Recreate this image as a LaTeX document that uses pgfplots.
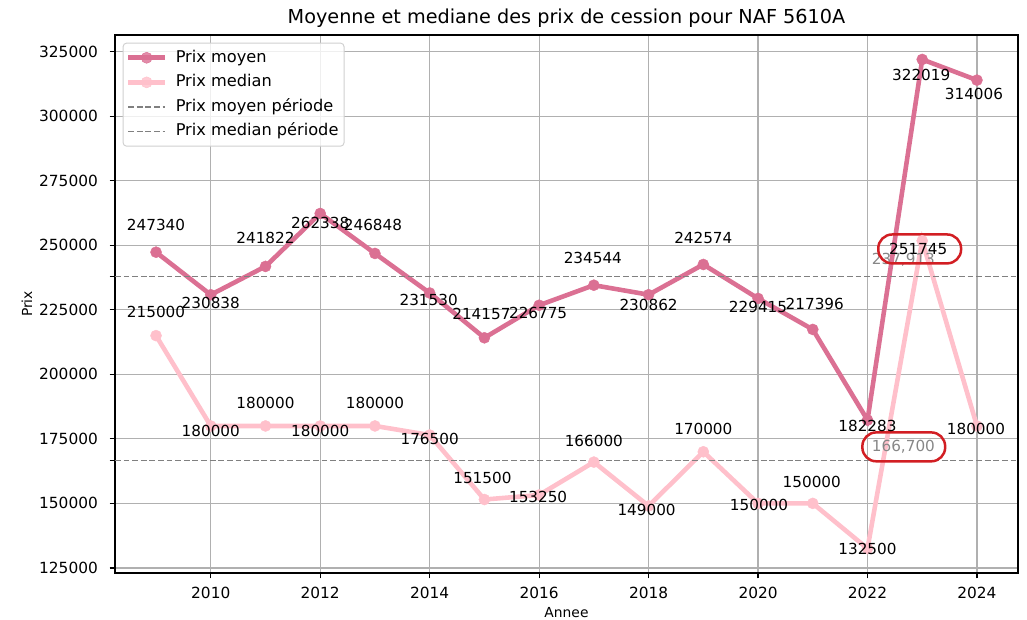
\documentclass[border=0pt]{standalone}
\usepackage{pgfplots}
\usepackage{pgfplotstable}
\pgfplotsset{compat=1.18}
\usepackage{fontspec}
\setmainfont{DejaVu Sans}
\definecolor{moyen}{RGB}{219,112,147}
\definecolor{median}{RGB}{255,192,203}
\definecolor{gridc}{RGB}{176,176,176}
\definecolor{dashc}{RGB}{128,128,128}
\definecolor{redc}{RGB}{210,30,35}
\definecolor{txtgray}{RGB}{135,135,135}
\tikzset{lab/.style={anchor=center, inner sep=0pt, text=black, font=\fontsize{11}{13}\selectfont}}

\pgfplotstableread{
annee moyen dxm dym median dxd dyd
2009 247340  0  27 215000  0  24
2010 230838  0  -8 180000  0  -5
2011 241822  0  28 180000  0  23
2012 262338  0  -9 180000  0  -5
2013 246848 -2  28 180000  0  23
2014 231530 -1  -7 176500  0  -4
2015 214157 -3  24 151500 -2  22
2016 226775 -1  -8 153250 -1  -2
2017 234544 -1  27 166000  0  21
2018 230862  0 -10 149000 -2  -4
2019 242574  0  27 170000  0  23
2020 229415  0  -9 150000  1  -2
2021 217396  2  25 150000 -1  21
2022 182283  0  -6 132500  0   0
2023 322019 -1 -16 251745 -4  -8
2024 314006 -3 -14 180000 -1  -3
}\data

\begin{document}
\begin{tikzpicture}
\begin{axis}[
  scale only axis,
  width=650.16bp, height=387.36bp,
  xmin=2008.25, xmax=2024.75,
  ymin=123024, ymax=331495,
  xtick={2010,2012,...,2024},
  ytick={125000,150000,...,325000},
  extra y ticks={166700,237913},
  extra y tick labels={},
  extra y tick style={grid=none},
  scaled y ticks=false,
  /pgf/number format/.cd, fixed, precision=0, 1000 sep={}, assume math mode=true,
  /pgfplots/.cd,
  tick pos=left,
  tick align=outside,
  major tick length=3.85bp,
  tick style={black, line width=0.9bp},
  axis line style={black, line width=0.9bp},
  grid=major,
  grid style={gridc, line width=0.9bp},
  tick label style={font=\fontsize{11.1}{13}\selectfont},
  xticklabel style={yshift=-3bp},
  yticklabel style={xshift=-5bp},
  label style={font=\fontsize{11.3}{13}\selectfont},
  xlabel={Annee},
  ylabel={Prix},
  every axis x label/.style={at={(axis description cs:0.5,-0.0743)}, anchor=center},
  every axis y label/.style={at={(axis description cs:-0.0975,0.5)}, rotate=90, anchor=center},
  title={Moyenne et mediane des prix de cession pour NAF 5610A},
  every axis title/.style={at={(axis description cs:0.5,1.0316)}, anchor=center, font=\fontsize{13.9}{16}\selectfont},
  clip=false,
  legend style={
    at={(axis description cs:0,1)}, anchor=north west,
    xshift=5.5bp, yshift=-5.5bp,
    draw=gridc!60, line width=0.7bp, rounded corners=2.5bp,
    fill=white, fill opacity=0.8, text opacity=1,
    font=\fontsize{11.7}{14}\selectfont,
    inner xsep=2bp, inner ysep=3bp,
    row sep=2.6bp,
    nodes={text height=8.6bp, text depth=2.5bp, inner ysep=2bp},
    /tikz/every odd column/.append style={column sep=4bp},
    /tikz/every even column/.append style={column sep=3bp},
  },
  legend cell align=left,
  legend image code/.code={\draw[mark repeat=2, mark phase=2] plot coordinates {(0bp,0bp) (13.3bp,0bp) (26.6bp,0bp)};},
]
\addplot[moyen, line width=3.3bp, mark=*, mark size=4bp, mark options={solid, fill=moyen, draw=moyen, line width=0.3bp}] table[x=annee, y=moyen] {\data};
\addlegendentry{Prix moyen}
\addplot[median, line width=3.3bp, mark=*, mark size=4bp, mark options={solid, fill=median, draw=median, line width=0.3bp}] table[x=annee, y=median] {\data};
\addlegendentry{Prix median}
\addplot[dashc, line width=1.1bp, dash pattern=on 4.2bp off 2bp] coordinates {(2008.25,237913) (2024.75,237913)};
\addlegendentry{Prix moyen période}
\addplot[dashc, line width=1.1bp, dash pattern=on 4.2bp off 2bp] coordinates {(2008.25,166700) (2024.75,166700)};
\addlegendentry{Prix median période}

\node[anchor=west, inner sep=0pt, xshift=3bp, text=txtgray, font=\fontsize{11}{13}\selectfont] at (axis cs:2022,244310) {237,913};
\node[anchor=west, inner sep=0pt, xshift=3bp, text=txtgray, font=\fontsize{11}{13}\selectfont] at (axis cs:2022,171845) {166,700};

\addplot[draw=none, no markers, forget plot,
  point meta=explicit symbolic,
  nodes near coords,
  every node near coord/.style={lab},
] table[x expr=\thisrow{annee}+\thisrow{dxm}/54.727, y expr=\thisrow{moyen}+\thisrow{dym}*387.49, meta=moyen] {\data};
\addplot[draw=none, no markers, forget plot,
  point meta=explicit symbolic,
  nodes near coords,
  every node near coord/.style={lab},
] table[x expr=\thisrow{annee}+\thisrow{dxd}/54.727, y expr=\thisrow{median}+\thisrow{dyd}*387.49, meta=median] {\data};

\draw[redc, line width=1.8bp, rounded corners=10bp] (axis cs:2022.197,243000) rectangle (axis cs:2023.710,254200);
\draw[redc, line width=1.8bp, rounded corners=10bp] (axis cs:2021.906,166300) rectangle (axis cs:2023.419,177500);

\coordinate (bbsw) at (axis description cs:-0.12735,-0.08736);
\coordinate (bbne) at (axis description cs:1.00997,1.06506);
\end{axis}
\pgfresetboundingbox
\path[use as bounding box] (bbsw) rectangle (bbne);
\end{tikzpicture}
\end{document}
